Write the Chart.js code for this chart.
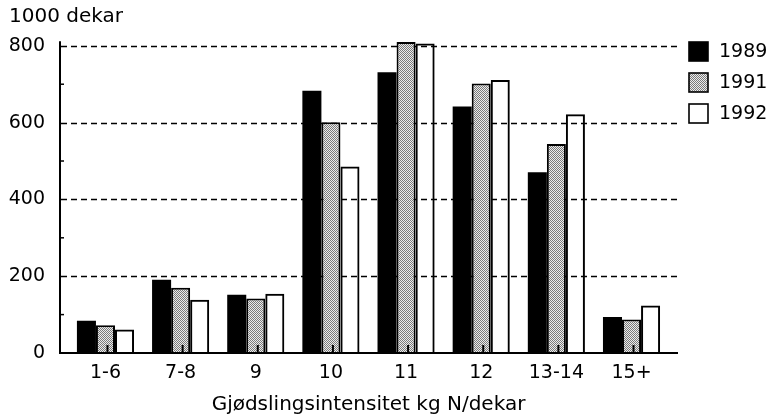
<!DOCTYPE html>
<html>
<head>
<meta charset="utf-8">
<script src="https://cdn.jsdelivr.net/npm/chart.js@4"></script>
<style>
html,body{margin:0;padding:0;background:#fff;}
canvas{display:block;}
</style>
</head>
<body>
<canvas id="c" width="772" height="417"></canvas>
<script>
const categories = ["1-6", "7-8", "9", "10", "11", "12", "13-14", "15+"];
const seriesNames = ["1989", "1991", "1992"];
const values1989 = [84, 191, 152, 683, 731, 642, 471, 94];
const values1991 = [72, 170, 142, 601, 810, 702, 544, 87];
const values1992 = [61, 139, 154, 486, 806, 711, 622, 124];
const yTicks = [0, 200, 400, 600, 800];
const yMinorTicks = [100, 300, 500, 700];
const yUnitLabel = "1000 dekar";
const xTitle = "Gjødslingsintensitet kg N/dekar";

const FONT = "'DejaVu Sans', sans-serif";

function makeStipple() {
  const p = document.createElement('canvas');
  p.width = 2; p.height = 2;
  const g = p.getContext('2d');
  g.fillStyle = '#ececec'; g.fillRect(0, 0, 2, 2);
  g.fillStyle = '#7a7a7a';
  g.fillRect(0, 0, 1, 1);
  g.fillRect(1, 1, 1, 1);
  return g.createPattern(p, 'repeat');
}
const ctx0 = document.getElementById('c').getContext('2d');
const stipple = makeStipple();

const decor = {
  id: 'decor',
  beforeDatasetsDraw(chart) {
    const ctx = chart.ctx, y = chart.scales.y;
    ctx.save();
    ctx.strokeStyle = '#000';
    ctx.lineWidth = 1.4;
    ctx.setLineDash([6, 4]);
    yTicks.forEach(v => {
      if (v === 0) return;
      const py = Math.round(y.getPixelForValue(v)) + 0.5;
      ctx.beginPath(); ctx.moveTo(61, py); ctx.lineTo(677, py); ctx.stroke();
    });
    ctx.restore();
  },
  afterDatasetsDraw(chart) {
    const ctx = chart.ctx, y = chart.scales.y, x = chart.scales.x;
    const y0 = y.getPixelForValue(0);
    ctx.save();
    ctx.strokeStyle = '#000';
    ctx.lineWidth = 2;
    ctx.beginPath();
    ctx.moveTo(60, y.getPixelForValue(812));
    ctx.lineTo(60, y0);
    ctx.lineTo(678, y0);
    ctx.stroke();
    ctx.lineWidth = 1.5;
    yMinorTicks.forEach(v => {
      const py = y.getPixelForValue(v);
      ctx.beginPath(); ctx.moveTo(60, py); ctx.lineTo(64, py); ctx.stroke();
    });
    ctx.lineWidth = 2;
    categories.forEach((c, i) => {
      const px = x.getPixelForTick(i) + 2;
      ctx.beginPath(); ctx.moveTo(px, y0); ctx.lineTo(px, y0 - 8); ctx.stroke();
    });
    ctx.restore();
  },
  afterDraw(chart) {
    const ctx = chart.ctx;
    ctx.save();
    ctx.fillStyle = '#000';
    ctx.textBaseline = 'middle';
    ctx.textAlign = 'left';
    ctx.font = "20px " + FONT;
    ctx.fillText(yUnitLabel, 9, 17);
    ctx.font = "19px " + FONT;
    chart.data.datasets.forEach((ds, i) => {
      const cy = 51 + i * 31;
      ctx.fillStyle = ds.backgroundColor;
      ctx.fillRect(689, cy - 9, 19, 19);
      ctx.strokeStyle = '#000';
      ctx.lineWidth = 1.6;
      ctx.strokeRect(689, cy - 9, 19, 19);
      ctx.fillStyle = '#000';
      ctx.fillText(ds.label, 719, cy + 1);
    });
    ctx.restore();
  }
};

new Chart(ctx0, {
  type: 'bar',
  data: {
    labels: categories,
    datasets: [
      { label: seriesNames[0], data: values1989, backgroundColor: '#000', borderColor: '#000', borderWidth: 0 },
      { label: seriesNames[1], data: values1991, backgroundColor: stipple, borderColor: '#000', borderWidth: 2 },
      { label: seriesNames[2], data: values1992, backgroundColor: 'rgba(255,255,255,0)', borderColor: '#000', borderWidth: 2 }
    ]
  },
  options: {
    responsive: false,
    animation: false,
    events: [],
    layout: { padding: { left: 0, right: 102.9, top: 32.4, bottom: 0 } },
    datasets: { bar: { barPercentage: 1.0, categoryPercentage: 0.76 } },
    plugins: { legend: { display: false }, tooltip: { enabled: false }, title: { display: false } },
    scales: {
      x: {
        grid: { display: false, drawTicks: false },
        border: { display: false },
        ticks: { color: '#000', font: { family: FONT, size: 19 }, padding: 9, maxRotation: 0, autoSkip: false },
        title: { display: true, text: xTitle, color: '#000', font: { family: FONT, size: 20 }, padding: { top: 6, bottom: 0 } },
        afterFit(s) { s.height = 64; }
      },
      y: {
        min: 0, max: 830,
        grid: { display: false, drawTicks: false },
        border: { display: false },
        afterBuildTicks(s) { s.ticks = yTicks.map(v => ({ value: v })); },
        ticks: { color: '#000', font: { family: FONT, size: 19 }, padding: 22.9 },
        afterFit(s) { s.width = 67.9; }
      }
    }
  },
  plugins: [decor]
});
</script>
</body>
</html>
